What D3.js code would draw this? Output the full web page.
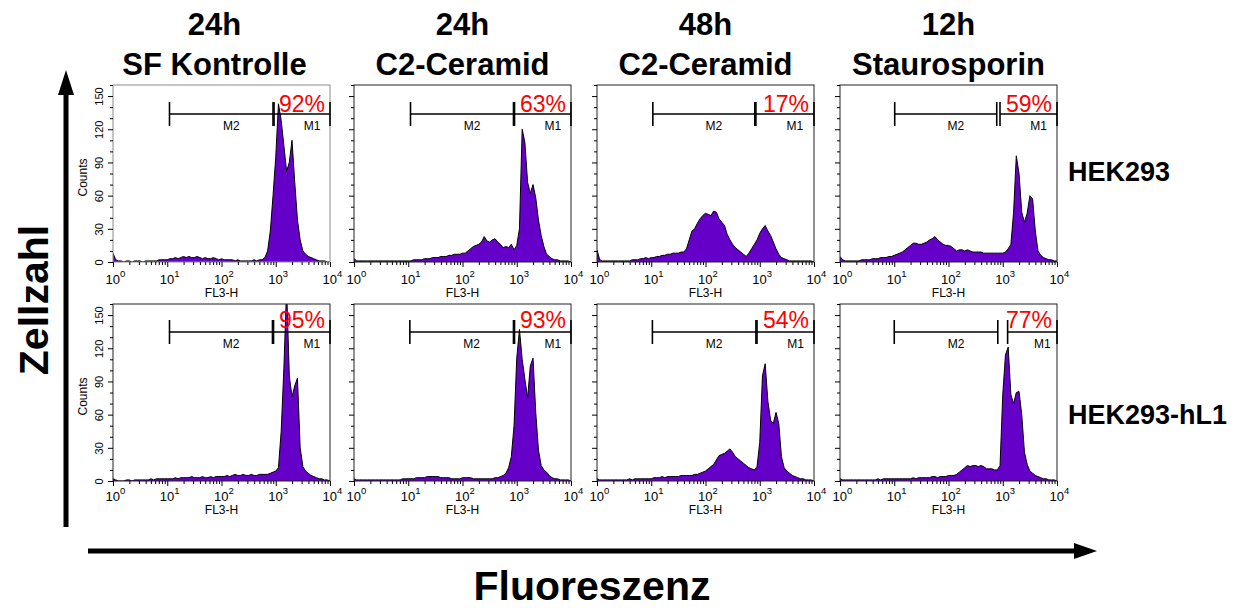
<!DOCTYPE html>
<html lang="de">
<head>
  <meta charset="UTF-8">
  <title>Zellzahl vs Fluoreszenz</title>
  <script src="https://d3js.org/d3.v7.min.js"></script>
  <style>
    body { margin: 0; background: #fff; font-family: Arial, "Liberation Sans", sans-serif; }
    svg { display: block; }
    .tick line { stroke: #000; }
    .domain { display: none; }
  </style>
</head>
<body>
  <svg width="1234" height="608"></svg>
  <script>
    // column / row labels
    const timeLabels = ["24h", "24h", "48h", "12h"];
    const treatments = ["SF Kontrolle", "C2-Ceramid", "C2-Ceramid", "Staurosporin"];
    const cellLines = ["HEK293", "HEK293-hL1"];
    const percentM1 = [[92, 63, 17, 59], [95, 93, 54, 77]];
    const yTicks = [0, 30, 60, 90, 120, 150];
    const xTicks = [1, 10, 100, 1000, 10000];

    // histogram counts, one bin per 0.05 decade from 10^0 to 10^4 (81 bins)
    const hekCtrl24 = [8,2,1,1,0,1,1,0,1,1,1,0,1,1,1,1,1,2,2,2,2,3,3,4,3,4,5,4,5,4,4,5,4,3,4,3,3,4,3,2,3,2,2,2,2,1,2,1,1,1,1,1,2,1,2,2,4,10,28,60,95,143,128,105,82,90,110,72,38,20,10,7,5,4,3,2,1,1,1,0,0];
    const hekCer24 = [3,1,1,1,1,1,1,1,1,1,1,1,1,1,1,1,1,1,1,1,1,1,2,2,2,2,3,3,3,4,4,4,5,5,5,6,6,7,7,7,8,8,10,12,14,15,16,18,23,19,18,20,21,18,16,13,14,13,16,11,15,30,120,108,72,62,70,58,38,24,14,7,5,3,2,2,1,1,1,1,0];
    const hekCer48 = [11,2,1,1,1,1,1,1,1,1,1,1,1,2,2,2,3,3,4,3,4,4,5,5,6,6,7,7,8,8,8,9,9,12,20,28,30,35,39,42,44,43,42,46,45,39,36,33,25,20,16,13,11,9,7,5,8,12,16,20,26,30,33,28,24,18,12,7,4,3,2,1,1,1,1,1,1,1,1,1,0];
    const hekStau12 = [5,2,1,1,1,1,1,1,2,2,2,2,3,3,3,4,4,4,5,5,6,7,8,9,11,13,15,17,17,16,16,17,18,20,21,23,20,18,16,15,15,14,12,10,11,11,10,11,10,9,9,9,9,8,8,8,8,8,8,8,8,9,12,16,45,96,80,45,36,44,60,57,28,10,6,4,3,2,2,1,1];
    const hl1Ctrl24 = [2,1,0,0,0,1,1,0,1,1,1,1,1,1,2,1,2,2,2,2,2,2,2,3,2,3,3,3,3,4,3,3,3,4,3,3,4,3,4,4,4,4,5,4,5,6,5,5,6,5,5,6,5,5,6,6,6,6,7,8,9,12,45,102,175,95,76,86,93,30,13,9,7,5,4,3,2,2,1,1,0];
    const hl1Cer24 = [2,1,1,1,1,1,1,1,1,1,1,1,1,1,1,1,1,1,2,2,2,2,2,3,3,3,3,4,4,4,4,4,3,3,3,3,2,2,2,2,3,3,3,3,2,2,2,2,2,2,2,2,3,3,4,5,7,12,22,50,111,137,110,92,75,104,111,62,28,14,10,8,5,3,2,2,1,1,1,1,0];
    const hl1Cer48 = [2,1,1,1,1,1,1,1,1,1,1,1,2,1,2,2,2,2,2,2,2,3,3,3,4,3,4,4,4,4,4,5,5,5,5,5,6,6,7,8,9,11,13,15,19,23,24,25,27,29,26,22,20,18,16,14,12,11,10,13,35,95,106,72,55,52,62,52,22,12,9,7,5,4,3,2,2,1,1,1,0];
    const hl1Stau12 = [2,1,1,1,1,1,1,1,1,1,1,1,1,1,2,1,2,2,2,2,2,2,2,2,2,2,2,3,2,3,3,3,3,3,4,4,3,4,4,4,5,5,5,6,8,10,12,14,13,14,14,13,14,13,11,11,11,10,10,14,78,114,121,78,70,80,81,60,26,15,9,7,5,4,3,2,2,1,1,1,0];
    const histograms = [
      [hekCtrl24, hekCer24, hekCer48, hekStau12],
      [hl1Ctrl24, hl1Cer24, hl1Cer48, hl1Stau12]
    ];

    // marker gates M2 and M1 (channel values)
    const gatesM2 = [[[11, 890], [11, 870], [10.7, 810], [10.2, 775]], [[11, 870], [10.7, 870], [10.5, 850], [10, 810]]];
    const gatesM1 = [[[930, 10000], [910, 10000], [850, 10000], [890, 10000]], [[910, 10000], [910, 10000], [890, 10000], [1230, 10000]]];

    const colLeft = [113, 354, 597, 840];
    const rowTop = [85, 304];
    const pw = 217, ph = 177;
    const binStep = 0.05;

    const svg = d3.select("svg");

    const x = d3.scaleLog().domain([1, 10000]).range([0, pw]);
    const y = d3.scaleLinear().domain([0, 160]).range([ph, 0]);

    const minorX = [];
    [1, 10, 100, 1000].forEach(p => { for (let k = 2; k <= 9; k++) minorX.push(p * k); });
    const minorY = [10, 20, 40, 50, 70, 80, 100, 110, 130, 140, 160];

    const area = d3.area()
      .x((d, i) => x(Math.pow(10, i * binStep)))
      .y0(ph)
      .y1(d => y(d));
    const line = d3.line()
      .x((d, i) => x(Math.pow(10, i * binStep)))
      .y(d => y(d));

    rowTop.forEach((top, r) => {
      colLeft.forEach((left, c) => {
        const g = svg.append("g").attr("transform", `translate(${left},${top})`);
        const id = `clip${r}${c}`;
        g.append("clipPath").attr("id", id)
          .append("rect").attr("width", pw).attr("height", ph);

        const hist = g.append("g").attr("clip-path", `url(#${id})`);
        hist.append("path").datum(histograms[r][c])
          .attr("d", area).attr("fill", "#6400c8");
        hist.append("path").datum(histograms[r][c])
          .attr("d", line).attr("fill", "none").attr("stroke", "#000").attr("stroke-width", 1);

        // frame
        g.append("rect").attr("width", pw).attr("height", ph)
          .attr("fill", "none")
          .attr("stroke", r === 0 && c === 0 ? "#8a8a8a" : "#222")
          .attr("stroke-width", 1);

        // y axis
        const yAx = g.append("g").call(d3.axisLeft(y).tickValues(yTicks).tickSize(5)
          .tickFormat(c === 0 ? d3.format("d") : ""));
        yAx.selectAll("text")
          .attr("x", 0).attr("dy", 0)
          .attr("transform", "translate(-10,0) rotate(-90)")
          .attr("text-anchor", "middle")
          .style("font-size", "11px").style("font-family", "Arial, 'Liberation Sans', sans-serif");
        g.append("g").call(d3.axisLeft(y).tickValues(minorY).tickSize(3).tickFormat(""));

        if (c === 0) {
          g.append("text")
            .attr("transform", `translate(-26,${ph / 2 + 4}) rotate(-90)`)
            .attr("text-anchor", "middle")
            .style("font-size", "12px")
            .text("Counts");
        }

        // x axis
        g.append("g").attr("transform", `translate(0,${ph})`)
          .call(d3.axisBottom(x).tickValues(xTicks).tickSize(5).tickFormat(""));
        g.append("g").attr("transform", `translate(0,${ph})`)
          .call(d3.axisBottom(x).tickValues(minorX).tickSize(3).tickFormat(""));
        xTicks.forEach((v, k) => {
          const t = g.append("text")
            .attr("x", x(v) - 7.5).attr("y", ph + (r === 0 ? 22 : 20))
            .style("font-size", "13px");
          t.append("tspan").text("10");
          t.append("tspan").attr("dy", -7).style("font-size", "9.5px").text(k);
        });
        g.append("text")
          .attr("x", pw / 2).attr("y", ph + (r === 0 ? 35 : 33))
          .attr("text-anchor", "middle")
          .style("font-size", "12px")
          .text("FL3-H");

        // marker gates
        const my = r === 0 ? 29 : 28;
        [[gatesM2[r][c], "M2"], [gatesM1[r][c], "M1"]].forEach(([gate, name]) => {
          const x0 = x(gate[0]), x1 = x(gate[1]);
          g.append("line").attr("x1", x0).attr("x2", x1).attr("y1", my).attr("y2", my)
            .attr("stroke", "#000").attr("stroke-width", 1.3);
          [x0, x1].forEach(xx => g.append("line")
            .attr("x1", xx).attr("x2", xx).attr("y1", my - 12).attr("y2", my + 12)
            .attr("stroke", "#000").attr("stroke-width", 1.6));
          g.append("text")
            .attr("x", (x0 + x1) / 2 + 10).attr("y", my + 16)
            .attr("text-anchor", "middle")
            .style("font-size", "12px")
            .text(name);
        });

        g.append("text")
          .attr("x", pw - 5).attr("y", r === 0 ? 27 : 24)
          .attr("text-anchor", "end")
          .attr("fill", "#ff0000")
          .style("font-size", "23px")
          .text(percentM1[r][c] + "%");
      });
    });

    // column titles
    colLeft.forEach((left, c) => {
      const cx = left + pw / 2 - (c === 0 ? 7 : 0);
      svg.append("text").attr("x", cx).attr("y", 35)
        .attr("text-anchor", "middle").style("font-size", "31px").style("font-weight", "bold")
        .text(timeLabels[c]);
      svg.append("text").attr("x", cx).attr("y", 75)
        .attr("text-anchor", "middle").style("font-size", "31px").style("font-weight", "bold")
        .text(treatments[c]);
    });

    // row labels
    cellLines.forEach((name, r) => {
      svg.append("text").attr("x", 1068).attr("y", r === 0 ? 181 : 424)
        .style("font-size", "27px").style("font-weight", "bold")
        .text(name);
    });

    // big arrows
    svg.append("line").attr("x1", 66).attr("x2", 66).attr("y1", 527).attr("y2", 90)
      .attr("stroke", "#000").attr("stroke-width", 5);
    svg.append("path").attr("d", "M66,70 L58,95 L74,95 Z").attr("fill", "#000");
    svg.append("line").attr("x1", 88).attr("x2", 1078).attr("y1", 551).attr("y2", 551)
      .attr("stroke", "#000").attr("stroke-width", 5);
    svg.append("path").attr("d", "M1097,551 L1074,543 L1074,559 Z").attr("fill", "#000");

    svg.append("text")
      .attr("transform", "translate(48,300) rotate(-90)")
      .attr("text-anchor", "middle")
      .style("font-size", "41px").style("font-weight", "bold")
      .text("Zellzahl");
    svg.append("text")
      .attr("x", 592).attr("y", 600)
      .attr("text-anchor", "middle")
      .style("font-size", "41px").style("font-weight", "bold")
      .text("Fluoreszenz");
  </script>
</body>
</html>
